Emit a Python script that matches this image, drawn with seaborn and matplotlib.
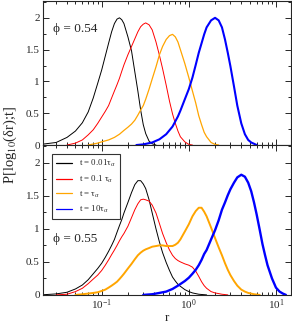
import numpy as np
import pandas as pd
import matplotlib
matplotlib.use("Agg")
import matplotlib.pyplot as plt
from matplotlib.lines import Line2D
import seaborn as sns
from matplotlib.ticker import MultipleLocator, LogLocator, NullFormatter

# ---- data (r, P) ----
labels = ["t = 0.01τ$_α$", "t = 0.1 τ$_α$", "t = τ$_α$", "t = 10τ$_α$"]
colors = ["black", "#ff0000", "#ffa500", "#0000ff"]
y_ticks = [0, 0.5, 1, 1.5, 2]
y_tick_labels = ["0", "0.5", "1", "1.5", "2"]

# phi = 0.54 (top panel)
top_black_r = [0.02, 0.03, 0.04, 0.05, 0.06, 0.07, 0.08, 0.09, 0.10, 0.11, 0.12, 0.13, 0.14, 0.15,
               0.16, 0.17, 0.18, 0.20, 0.22, 0.24, 0.26, 0.28, 0.30, 0.32, 0.35, 0.38, 0.42]
top_black_p = [0.01, 0.04, 0.12, 0.22, 0.35, 0.52, 0.74, 0.97, 1.18, 1.40, 1.60, 1.78, 1.91, 1.98,
               2.00, 1.97, 1.91, 1.70, 1.48, 1.15, 0.85, 0.55, 0.32, 0.18, 0.06, 0.02, 0.0]

top_red_r = [0.04, 0.05, 0.06, 0.07, 0.08, 0.09, 0.10, 0.11, 0.12, 0.13, 0.14, 0.15, 0.16, 0.17,
             0.18, 0.20, 0.22, 0.24, 0.26, 0.28, 0.30, 0.32, 0.35, 0.38, 0.42, 0.46, 0.50, 0.55,
             0.60, 0.65, 0.70, 0.75, 0.80, 0.90, 1.0, 1.1]
top_red_p = [0.0, 0.03, 0.08, 0.16, 0.24, 0.34, 0.44, 0.53, 0.62, 0.74, 0.85, 0.95, 1.05, 1.16,
             1.26, 1.42, 1.55, 1.67, 1.78, 1.86, 1.90, 1.92, 1.89, 1.81, 1.62, 1.41, 1.20, 0.94,
             0.69, 0.49, 0.34, 0.22, 0.13, 0.05, 0.01, 0.0]

top_orange_r = [0.07, 0.09, 0.10, 0.12, 0.14, 0.16, 0.18, 0.20, 0.22, 0.24, 0.26, 0.28, 0.30, 0.32,
                0.35, 0.38, 0.42, 0.46, 0.50, 0.55, 0.60, 0.65, 0.70, 0.75, 0.80, 0.90, 1.0, 1.1,
                1.2, 1.3, 1.4, 1.5, 1.6, 1.8, 2.0, 2.2]
top_orange_p = [0.0, 0.03, 0.05, 0.08, 0.12, 0.17, 0.23, 0.28, 0.33, 0.39, 0.47, 0.55, 0.62, 0.72,
                0.88, 1.04, 1.23, 1.42, 1.55, 1.66, 1.72, 1.74, 1.70, 1.62, 1.50, 1.28, 1.06, 0.85,
                0.66, 0.46, 0.32, 0.20, 0.13, 0.04, 0.01, 0.0]

top_blue_r = [0.25, 0.30, 0.38, 0.46, 0.55, 0.65, 0.75, 0.80, 0.90, 1.0, 1.1, 1.2, 1.3, 1.4, 1.5,
              1.6, 1.8, 2.0, 2.2, 2.4, 2.6, 2.8, 3.0, 3.3, 3.6, 4.0, 4.4, 4.8, 5.2, 5.6, 6.0]
top_blue_p = [0.0, 0.01, 0.04, 0.09, 0.17, 0.29, 0.45, 0.54, 0.72, 0.88, 1.06, 1.26, 1.45, 1.60, 1.74,
              1.85, 1.96, 2.00, 1.96, 1.85, 1.66, 1.45, 1.24, 0.92, 0.62, 0.34, 0.17, 0.08, 0.04, 0.02, 0.0]

# phi = 0.55 (bottom panel)
bot_black_r = [0.02, 0.03, 0.04, 0.05, 0.06, 0.07, 0.08, 0.09, 0.10, 0.11, 0.12, 0.13, 0.14, 0.15,
               0.16, 0.17, 0.18, 0.20, 0.22, 0.24, 0.26, 0.28, 0.30, 0.32, 0.35, 0.38, 0.42, 0.46,
               0.50, 0.55, 0.60, 0.65, 0.70, 0.75, 0.80, 0.90, 1.0, 1.1, 1.3, 1.6]
bot_black_p = [0.0, 0.015, 0.04, 0.09, 0.15, 0.23, 0.32, 0.40, 0.48, 0.57, 0.66, 0.75, 0.84, 0.95,
               1.05, 1.14, 1.24, 1.40, 1.55, 1.67, 1.73, 1.73, 1.68, 1.61, 1.44, 1.24, 1.00, 0.80,
               0.64, 0.49, 0.37, 0.27, 0.21, 0.16, 0.13, 0.08, 0.05, 0.03, 0.01, 0.0]

bot_red_r = [0.03, 0.04, 0.05, 0.06, 0.07, 0.08, 0.09, 0.10, 0.11, 0.12, 0.13, 0.14, 0.15, 0.16,
             0.17, 0.18, 0.20, 0.22, 0.24, 0.26, 0.28, 0.30, 0.32, 0.35, 0.38, 0.42, 0.46, 0.50,
             0.55, 0.60, 0.65, 0.70, 0.75, 0.80, 0.90, 1.0, 1.1, 1.2, 1.3, 1.4, 1.5, 1.6, 1.8,
             2.0, 2.4, 2.8]
bot_red_p = [0.0, 0.01, 0.05, 0.10, 0.17, 0.24, 0.30, 0.37, 0.45, 0.53, 0.61, 0.68, 0.75, 0.82,
             0.88, 0.93, 1.04, 1.17, 1.29, 1.38, 1.44, 1.45, 1.44, 1.42, 1.36, 1.24, 1.08, 0.93,
             0.79, 0.68, 0.60, 0.55, 0.52, 0.50, 0.47, 0.45, 0.42, 0.36, 0.28, 0.20, 0.14, 0.10, 0.05,
             0.03, 0.01, 0.0]

bot_orange_r = [0.05, 0.06, 0.07, 0.08, 0.09, 0.10, 0.11, 0.12, 0.13, 0.14, 0.15, 0.16, 0.17, 0.18,
                0.20, 0.22, 0.24, 0.26, 0.28, 0.30, 0.32, 0.35, 0.38, 0.42, 0.46, 0.50, 0.55, 0.60,
                0.65, 0.70, 0.75, 0.80, 0.90, 1.0, 1.1, 1.2, 1.3, 1.4, 1.5, 1.6, 1.8, 2.0, 2.2, 2.4,
                2.6, 2.8, 3.0, 3.3, 3.6, 4.0, 4.4, 4.8, 5.6, 6.5]
bot_orange_p = [0.0, 0.01, 0.02, 0.03, 0.04, 0.06, 0.08, 0.11, 0.14, 0.17, 0.20, 0.24, 0.28, 0.32,
                0.40, 0.47, 0.54, 0.60, 0.64, 0.67, 0.69, 0.71, 0.73, 0.74, 0.75, 0.75, 0.74, 0.74,
                0.74, 0.76, 0.79, 0.84, 0.96, 1.07, 1.19, 1.27, 1.32, 1.32, 1.26, 1.19, 1.02, 0.86,
                0.72, 0.60, 0.48, 0.38, 0.30, 0.21, 0.14, 0.08, 0.05, 0.03, 0.01, 0.0]

bot_blue_r = [0.30, 0.38, 0.46, 0.55, 0.65, 0.75, 0.90, 1.0, 1.1, 1.2, 1.3, 1.4, 1.5, 1.6, 1.8, 2.0,
              2.2, 2.4, 2.6, 2.8, 3.0, 3.3, 3.6, 4.0, 4.4, 4.8, 5.2, 5.6, 6.0, 6.5, 7.0, 7.5, 8.0,
              9.0, 10.0, 11.0, 12.0, 13.0]
bot_blue_p = [0.0, 0.01, 0.03, 0.05, 0.09, 0.14, 0.21, 0.26, 0.32, 0.38, 0.45, 0.53, 0.62, 0.68,
              0.84, 0.98, 1.13, 1.29, 1.40, 1.51, 1.60, 1.70, 1.78, 1.82, 1.79, 1.70, 1.57, 1.40,
              1.22, 0.99, 0.77, 0.60, 0.45, 0.25, 0.11, 0.05, 0.02, 0.0]

top_series = [(top_black_r, top_black_p), (top_red_r, top_red_p),
              (top_orange_r, top_orange_p), (top_blue_r, top_blue_p)]
bot_series = [(bot_black_r, bot_black_p), (bot_red_r, bot_red_p),
              (bot_orange_r, bot_orange_p), (bot_blue_r, bot_blue_p)]


def make_df(series):
    rows = []
    for lab, (r, p) in zip(labels, series):
        for ri, pi in zip(r, p):
            rows.append((lab, ri, pi))
    return pd.DataFrame(rows, columns=["t", "r", "P"])


sns.set_style("ticks")
plt.rcParams["font.family"] = ["Liberation Serif", "DejaVu Serif"]
plt.rcParams["mathtext.fontset"] = "stix"

fig = plt.figure(figsize=(2.92, 3.23), dpi=100)
left, right = 0.146, 0.995
ax1 = fig.add_axes([left, 0.551, right - left, 0.447])
ax2 = fig.add_axes([left, 0.087, right - left, 0.464])

widths_top = [0.7, 0.7, 0.9, 1.5]
widths_bot = [0.7, 0.7, 1.4, 1.7]

for ax, series, widths in [(ax1, top_series, widths_top), (ax2, bot_series, widths_bot)]:
    df = make_df(series)
    sns.lineplot(data=df, x="r", y="P", hue="t", palette=dict(zip(labels, colors)),
                 hue_order=labels, estimator=None, sort=False, ax=ax, legend=False)
    for line, w in zip(ax.get_lines(), widths):
        line.set_linewidth(w)
    ax.set_xscale("log")
    ax.set_xlim(0.021, 14.7)
    ax.set_ylim(0, 2.27)
    ax.yaxis.set_minor_locator(MultipleLocator(0.25))
    ax.xaxis.set_major_locator(LogLocator(base=10, numticks=10))
    ax.xaxis.set_minor_locator(LogLocator(base=10, subs=np.arange(2, 10), numticks=20))
    ax.xaxis.set_minor_formatter(NullFormatter())
    ax.tick_params(which="both", direction="in", top=True, right=True, labelsize=8,
                   width=0.7, pad=2)
    ax.tick_params(which="major", length=4.5)
    ax.tick_params(which="minor", length=2.3)
    ax.set_xlabel("")
    ax.set_ylabel("")
    for s in ax.spines.values():
        s.set_linewidth(0.8)
    ax.set_yticks(y_ticks)
    ax.set_yticklabels(y_tick_labels)

ax1.tick_params(axis="x", labelbottom=False)
ax2.set_xlabel("r", fontsize=9.5, labelpad=0)

ax1.text(0.04, 0.785, "ϕ = 0.54", transform=ax1.transAxes, fontsize=9.5)
ax2.text(0.04, 0.355, "ϕ = 0.55", transform=ax2.transAxes, fontsize=9.5)

handles = [Line2D([], [], color=c, lw=0.9) for c in colors]
leg = ax2.legend(handles, labels, loc="upper left", bbox_to_anchor=(0.0375, 0.94),
                 fontsize=6.4, frameon=True, fancybox=False, edgecolor="black",
                 handlelength=1.8, borderpad=0.45, labelspacing=0.5, handletextpad=0.8,
                 borderaxespad=0.0)
leg.get_frame().set_linewidth(0.8)

fig.text(0.035, 0.55, "P[log$_{10}$(δr);t]", rotation=90, va="center", ha="center",
         fontsize=10.5)

fig.savefig("out.png", dpi=100)
